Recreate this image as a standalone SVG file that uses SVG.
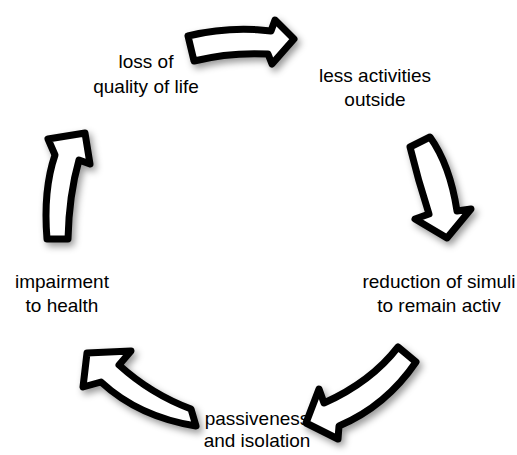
<svg xmlns="http://www.w3.org/2000/svg" width="517" height="455" viewBox="0 0 517 455">
<style>
.arrow{fill:#fff;stroke:#000;stroke-width:7;stroke-linejoin:round;filter:url(#sh)}
text{font-family:"Liberation Sans",Arial,sans-serif;font-size:19px;fill:#000;text-anchor:middle}
</style>
<defs>
<filter id="sh" x="-30%" y="-30%" width="160%" height="160%">
<feDropShadow dx="3" dy="4" stdDeviation="3.5" flood-color="#000" flood-opacity="0.4"/>
</filter>
</defs>
<rect width="517" height="455" fill="#fff"/>
<g id="connectors">
<path class="arrow" d="M188,36 Q230,26 271,31 L275,20 L294,39 L272,64 L268,54 Q230,52 194,61 Z"/>
<path class="arrow" d="M410,147 L430,137 Q450,165 457,211 L471,209 L447,238 L415,219 L429,214 Q418,180 410,147 Z"/>
<path class="arrow" d="M398,347 L416,362 Q386,406 339,426 L338,439 L306,423 L319,389 L324,403 Q371,382 398,347 Z"/>
<path class="arrow" d="M87,353 L131,351 L119,365 Q151,394 191,409 L196,426 Q139,417 101,382 L83,387 Z"/>
<path class="arrow" d="M47,239 Q43,190 55,155 L48,139 L85,133 L90,164 L79,160 Q69,195 68,239 Z"/>
</g>
<g id="node-loss">
<text x="146" y="68">loss of</text>
<text x="146" y="93">quality of life</text>
</g>
<g id="node-less">
<text x="375" y="82">less activities</text>
<text x="375" y="106">outside</text>
</g>
<g id="node-reduction">
<text x="439" y="288">reduction of simuli</text>
<text x="439" y="312">to remain activ</text>
</g>
<g id="node-passiveness">
<text x="257" y="425">passiveness</text>
<text x="257" y="447">and isolation</text>
</g>
<g id="node-impairment">
<text x="62" y="288">impairment</text>
<text x="62" y="312">to health</text>
</g>
</svg>
